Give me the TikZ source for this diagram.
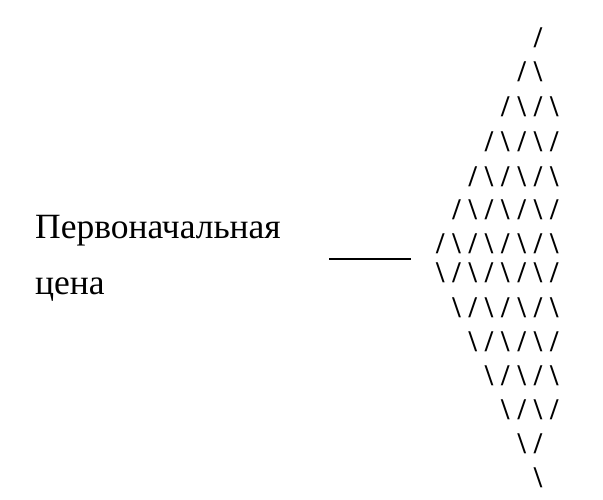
\documentclass[tikz,border=0pt]{standalone}
\usepackage{fontspec}
\setmainfont{Liberation Serif}
\newcommand\cc[1]{\makebox[16.3pt][c]{#1}}
\newcommand\fw{\cc{/}}
\newcommand\bw{\cc{\textbackslash}}
\begin{document}
\begin{tikzpicture}[x=1pt,y=-1pt,
  lbl/.style={anchor=base west,inner sep=0pt,font=\fontsize{35.5}{40}\selectfont},
  row/.style={anchor=base west,inner sep=0pt,font=\fontsize{30}{36}\selectfont\bfseries},
  conn/.style={line width=2.8pt}]
\useasboundingbox (0,0) rectangle (603,500);
\node[lbl] (t1) at (35,238) {Первоначальная};
\node[lbl] (t2) at (35,294) {цена};
\coordinate (la) at (329,259);
\coordinate (lb) at (411,259);
\draw[conn] (la) -- (lb);
\def\xs#1{\fpeval{431.85+16.3*#1}}
\node[row] (r1) at (\xs{6},48) {\fw};
\node[row] (r2) at (\xs{5},82) {\fw\bw};
\node[row] (r3) at (\xs{4},117) {\fw\bw\fw\bw};
\node[row] (r4) at (\xs{3},152) {\fw\bw\fw\bw\fw};
\node[row] (r5) at (\xs{2},186) {\fw\bw\fw\bw\fw\bw};
\node[row] (r6) at (\xs{1},220) {\fw\bw\fw\bw\fw\bw\fw};
\node[row] (r7) at (\xs{0},253) {\fw\bw\fw\bw\fw\bw\fw\bw};
\node[row] (r8) at (\xs{0},282) {\bw\fw\bw\fw\bw\fw\bw\fw};
\node[row] (r9) at (\xs{1},317) {\bw\fw\bw\fw\bw\fw\bw};
\node[row] (r10) at (\xs{2},351) {\bw\fw\bw\fw\bw\fw};
\node[row] (r11) at (\xs{3},385) {\bw\fw\bw\fw\bw};
\node[row] (r12) at (\xs{4},419) {\bw\fw\bw\fw};
\node[row] (r13) at (\xs{5},453) {\bw\fw};
\node[row] (r14) at (\xs{6},487) {\bw};
\end{tikzpicture}
\end{document}
